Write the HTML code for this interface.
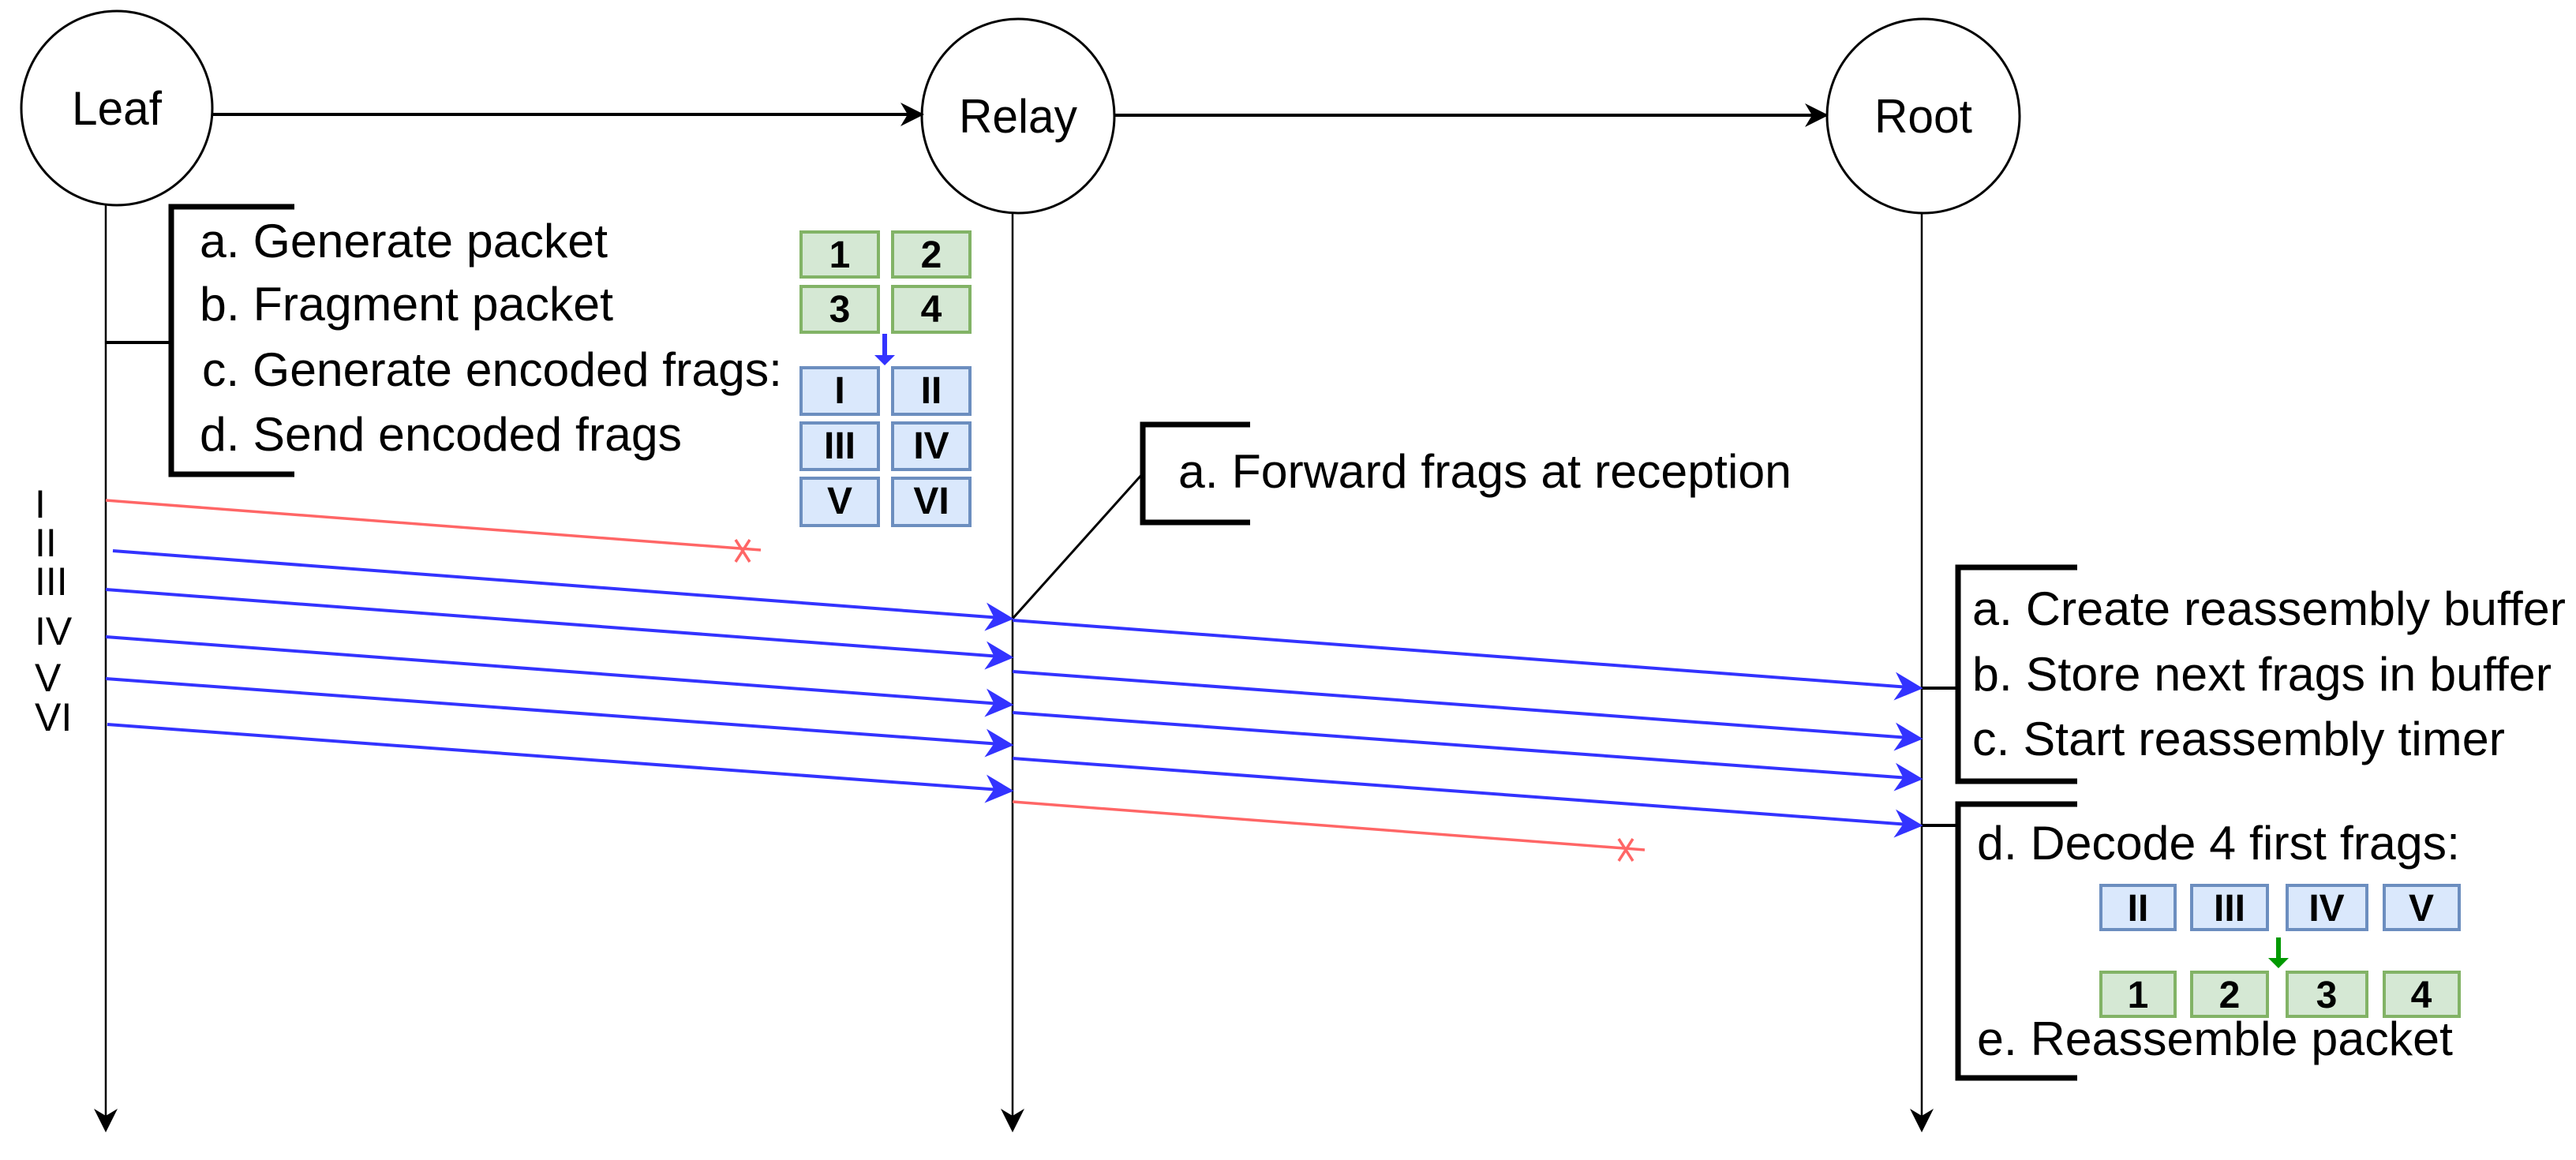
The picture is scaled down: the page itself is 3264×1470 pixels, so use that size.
<!DOCTYPE html>
<html><head><meta charset="utf-8"><style>html,body{margin:0;padding:0;background:#fff}svg{display:block}</style></head>
<body>
<svg width="3264" height="1470" viewBox="0 0 3264 1470" xmlns="http://www.w3.org/2000/svg" font-family="Liberation Sans, Arial, sans-serif">
<defs>
<marker id="abb" viewBox="0 0 10 10" refX="9" refY="5" markerWidth="30" markerHeight="30" orient="auto" markerUnits="userSpaceOnUse"><path d="M0,0 L10,5 L0,10 L3,5 Z" fill="#000"/></marker>
<marker id="bl" viewBox="0 0 10 10" refX="9" refY="5" markerWidth="36" markerHeight="36" orient="auto" markerUnits="userSpaceOnUse"><path d="M0,0 L10,5 L0,10 L3,5 Z" fill="#3333ff"/></marker>
</defs>
<g fill="none" stroke="#000" stroke-width="3">
<ellipse cx="148" cy="137" rx="121" ry="123"/>
<ellipse cx="1290" cy="147" rx="122" ry="123"/>
<ellipse cx="2437" cy="147" rx="122" ry="123"/>
</g>
<g font-size="60" text-anchor="middle" fill="#000">
<text x="148" y="158" textLength="114" lengthAdjust="spacingAndGlyphs">Leaf</text>
<text x="1290" y="168" textLength="150" lengthAdjust="spacingAndGlyphs">Relay</text>
<text x="2437" y="168" textLength="124" lengthAdjust="spacingAndGlyphs">Root</text>
</g>
<g stroke="#000" stroke-width="4">
<line x1="270" y1="145" x2="1168" y2="145" marker-end="url(#abb)"/>
<line x1="1412" y1="146" x2="2314" y2="146" marker-end="url(#abb)"/>
</g>
<g stroke="#000" stroke-width="2.5">
<line x1="134" y1="260" x2="134" y2="1432" marker-end="url(#abb)"/>
<line x1="1283" y1="270" x2="1283" y2="1432" marker-end="url(#abb)"/>
<line x1="2435" y1="270" x2="2435" y2="1432" marker-end="url(#abb)"/>
</g>
<g stroke="#000" fill="none">
<path d="M373,262 H217 V601 H373" stroke-width="7"/>
<line x1="134" y1="434" x2="217" y2="434" stroke-width="4"/>
<path d="M1584,538 H1448 V662 H1584" stroke-width="7"/>
<line x1="1283" y1="784" x2="1448" y2="600" stroke-width="3"/>
<path d="M2632,719 H2481 V990 H2632" stroke-width="7"/>
<line x1="2435" y1="872" x2="2481" y2="872" stroke-width="4"/>
<path d="M2632,1019 H2481 V1366 H2632" stroke-width="7"/>
<line x1="2435" y1="1046" x2="2481" y2="1046" stroke-width="4"/>
</g>
<g font-size="60" fill="#000">
<text x="253" y="326" textLength="517" lengthAdjust="spacingAndGlyphs">a. Generate packet</text>
<text x="253" y="406" textLength="524" lengthAdjust="spacingAndGlyphs">b. Fragment packet</text>
<text x="256" y="489" textLength="735" lengthAdjust="spacingAndGlyphs">c. Generate encoded frags:</text>
<text x="253" y="571" textLength="611" lengthAdjust="spacingAndGlyphs">d. Send encoded frags</text>
<text x="1493" y="618" textLength="777" lengthAdjust="spacingAndGlyphs">a. Forward frags at reception</text>
<text x="2499" y="792" textLength="752" lengthAdjust="spacingAndGlyphs">a. Create reassembly buffer</text>
<text x="2499" y="875" textLength="734" lengthAdjust="spacingAndGlyphs">b. Store next frags in buffer</text>
<text x="2499" y="957" textLength="675" lengthAdjust="spacingAndGlyphs">c. Start reassembly timer</text>
<text x="2505" y="1089" textLength="612" lengthAdjust="spacingAndGlyphs">d. Decode 4 first frags:</text>
<text x="2505" y="1337" textLength="603" lengthAdjust="spacingAndGlyphs">e. Reassemble packet</text>
</g>
<g font-size="50" fill="#000">
<text x="44" y="656">I</text>
<text x="44" y="705">II</text>
<text x="44" y="754">III</text>
<text x="44" y="817">IV</text>
<text x="44" y="876">V</text>
<text x="44" y="926">VI</text>
</g>
<g stroke-width="4">
<g fill="#d5e8d4" stroke="#82b366">
<rect x="1015" y="294" width="98" height="57"/><rect x="1131" y="294" width="98" height="57"/>
<rect x="1015" y="363" width="98" height="58"/><rect x="1131" y="363" width="98" height="58"/>
<rect x="2662" y="1232" width="94" height="56"/><rect x="2777" y="1232" width="96" height="56"/>
<rect x="2898" y="1232" width="101" height="56"/><rect x="3021" y="1232" width="95" height="56"/>
</g>
<g fill="#dae8fc" stroke="#6c8ebf">
<rect x="1015" y="466" width="98" height="59"/><rect x="1131" y="466" width="98" height="59"/>
<rect x="1015" y="536" width="98" height="59"/><rect x="1131" y="536" width="98" height="59"/>
<rect x="1015" y="606" width="98" height="60"/><rect x="1131" y="606" width="98" height="60"/>
<rect x="2662" y="1122" width="94" height="56"/><rect x="2777" y="1122" width="96" height="56"/>
<rect x="2898" y="1122" width="101" height="56"/><rect x="3021" y="1122" width="95" height="56"/>
</g>
</g>
<g font-size="48" font-weight="bold" text-anchor="middle" fill="#000">
<text x="1064" y="339">1</text><text x="1180" y="339">2</text>
<text x="1064" y="408">3</text><text x="1180" y="408">4</text>
<text x="1064" y="511">I</text><text x="1180" y="511">II</text>
<text x="1064" y="581">III</text><text x="1180" y="581">IV</text>
<text x="1064" y="651">V</text><text x="1180" y="651">VI</text>
<text x="2709" y="1167">II</text><text x="2825" y="1167">III</text>
<text x="2948" y="1167">IV</text><text x="3068" y="1167">V</text>
<text x="2709" y="1277">1</text><text x="2825" y="1277">2</text>
<text x="2948" y="1277">3</text><text x="3068" y="1277">4</text>
</g>
<line x1="1121" y1="423" x2="1121" y2="450" stroke="#3333ff" stroke-width="6"/>
<path d="M1108,450 L1134,450 L1121,463 Z" fill="#3333ff"/>
<line x1="2887" y1="1188" x2="2887" y2="1214" stroke="#009900" stroke-width="6"/>
<path d="M2874,1214 L2900,1214 L2887,1227 Z" fill="#009900"/>
<g stroke="#ff6666" stroke-width="3.5" fill="none">
<line x1="134" y1="634" x2="964" y2="697"/>
<path d="M932,684 L950,712 M950,684 L932,712"/>
<line x1="1283" y1="1016" x2="2084" y2="1077"/>
<path d="M2051,1063 L2069,1091 M2069,1063 L2051,1091"/>
</g>
<g stroke="#3333ff" stroke-width="4">
<line x1="143" y1="698" x2="1281" y2="784" marker-end="url(#bl)"/>
<line x1="134" y1="747" x2="1281" y2="833" marker-end="url(#bl)"/>
<line x1="134" y1="807" x2="1281" y2="893" marker-end="url(#bl)"/>
<line x1="134" y1="860" x2="1281" y2="944" marker-end="url(#bl)"/>
<line x1="136" y1="918" x2="1281" y2="1002" marker-end="url(#bl)"/>
<line x1="1283" y1="786" x2="2433" y2="872" marker-end="url(#bl)"/>
<line x1="1283" y1="851" x2="2433" y2="936" marker-end="url(#bl)"/>
<line x1="1283" y1="903" x2="2433" y2="987" marker-end="url(#bl)"/>
<line x1="1283" y1="961" x2="2433" y2="1046" marker-end="url(#bl)"/>
</g>
</svg>
</body></html>
